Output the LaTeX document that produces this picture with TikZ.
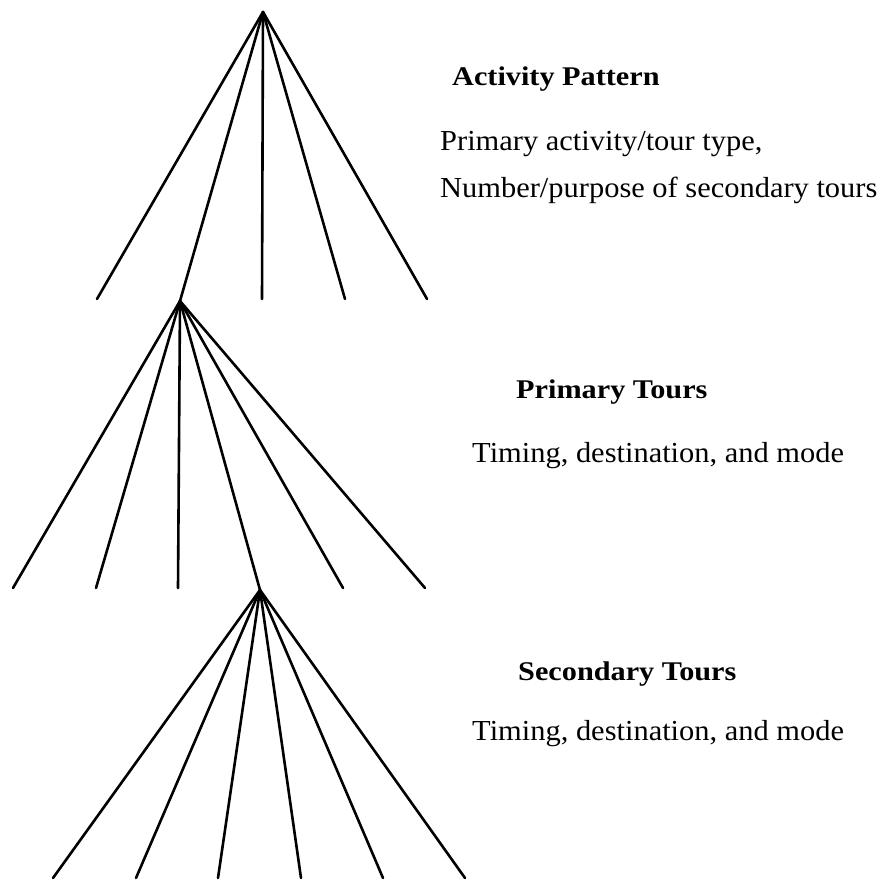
\documentclass[tikz,border=0pt]{standalone}
\usepackage{fontspec}
\setmainfont{Liberation Serif}
\begin{document}
\begin{tikzpicture}[x=1pt,y=-1pt,
  branch/.style={line width=2.6pt,line cap=round},
  title/.style={anchor=base west,inner sep=0pt,font=\fontsize{27}{32}\selectfont\bfseries,xscale=1.12},
  body/.style={anchor=base west,inner sep=0pt,font=\fontsize{29}{34}\selectfont,xscale=1.05}]
\useasboundingbox (0,0) rectangle (884,882);

% choice points
\coordinate (a1) at (263,12);
\coordinate (a2) at (180,301);
\coordinate (a3) at (260,590);

% alternatives of the activity pattern level
\coordinate (l11) at (97,299);
\coordinate (l13) at (262,299);
\coordinate (l14) at (345,299);
\coordinate (l15) at (427,299);

% alternatives of the primary tour level
\coordinate (l21) at (13,588);
\coordinate (l22) at (96,588);
\coordinate (l23) at (178,588);
\coordinate (l25) at (343,588);
\coordinate (l26) at (425,588);

% alternatives of the secondary tour level
\coordinate (l31) at (53,878);
\coordinate (l32) at (136,878);
\coordinate (l33) at (218,878);
\coordinate (l34) at (301,878);
\coordinate (l35) at (383,878);
\coordinate (l36) at (465,878);

\foreach \t in {l11,a2,l13,l14,l15} \draw[branch] (a1) -- (\t);
\foreach \t in {l21,l22,l23,a3,l25,l26} \draw[branch] (a2) -- (\t);
\foreach \t in {l31,l32,l33,l34,l35,l36} \draw[branch] (a3) -- (\t);

% level descriptions
\node[title] (t1) at (452,86) {Activity Pattern};
\node[body] (d1a) at (440,151) {Primary activity/tour type,};
\node[body] (d1b) at (440,198) {Number/purpose of secondary tours};
\node[title] (t2) at (516,399) {Primary Tours};
\node[body] (d2) at (472,463) {Timing, destination, and mode};
\node[title] (t3) at (518,680) {Secondary Tours};
\node[body] (d3) at (472,740) {Timing, destination, and mode};
\end{tikzpicture}
\end{document}
